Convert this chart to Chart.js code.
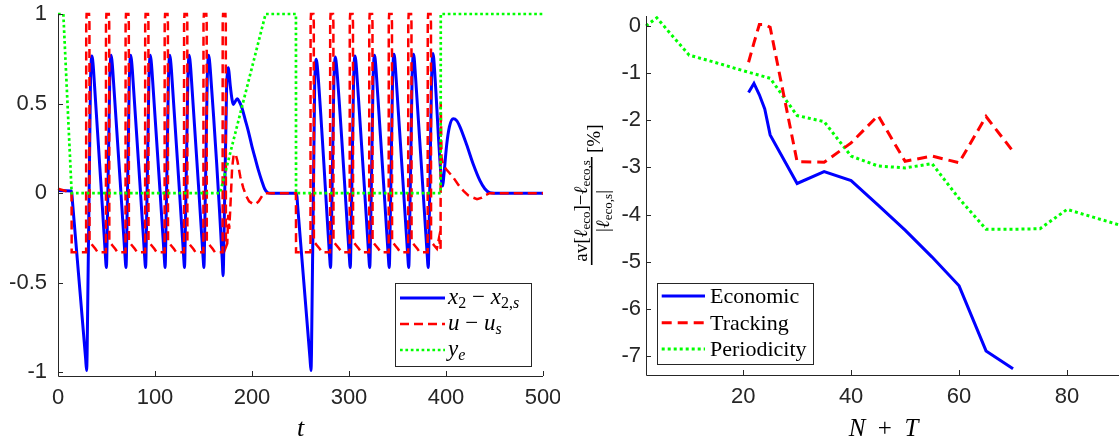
<!DOCTYPE html>
<html>
<head>
<meta charset="utf-8">
<script src="https://cdn.jsdelivr.net/npm/chart.js@4.4.1/dist/chart.umd.min.js"></script>
<style>
    html, body { margin: 0; padding: 0; background: #fff; overflow: hidden; width: 1119px; height: 441px; }
    #leftBox { position: absolute; left: 0; top: 0; }
    #rightBox { position: absolute; left: 560px; top: 0; }
</style>
</head>
<body>
<div id="leftBox"><canvas id="timeChart" width="560" height="441"></canvas></div>
<div id="rightBox"><canvas id="horizonChart" width="566" height="441"></canvas></div>
<script>
// ---- closed loop simulation (left) ----
const timeTicks = [0, 100, 200, 300, 400, 500];
const levelTicks = [-1, -0.5, 0, 0.5, 1];

// x2 - x2,s
const stateT = [
    0, 14, 15.0, 28.5, 29.5, 30.0, 33.5, 34.3, 34.9, 35.7, 36.6, 49.0, 49.5, 49.9,
    50.3, 53.3, 54.1, 54.7, 55.5, 56.4, 69.2, 69.7, 70.1,
    70.5, 73.5, 74.3, 74.9, 75.7, 76.6, 89.4, 89.9, 90.3,
    90.7, 93.7, 94.5, 95.1, 95.9, 96.8, 109.6, 110.1, 110.4,
    110.8, 113.8, 114.6, 115.2, 116.0, 116.9, 129.6, 130.1, 130.4,
    130.8, 133.8, 134.6, 135.2, 136.0, 136.9, 149.6, 150.1, 150.4,
    150.8, 153.8, 154.6, 155.3, 156.1, 157.0, 169.4, 169.9, 170.2,
    170.6, 173.8, 174.8, 175.6, 176.4, 177.6, 179.5, 180.7, 182.5, 184.8, 187.0, 189.5,
    193.0, 196.2, 200.0, 203.0, 206.5, 210.0, 213.0, 216.0, 220.0,
    246.0, 247.0, 259.8, 260.8, 261.3, 264.6, 265.4, 266.1, 266.9, 267.8, 280.1, 280.6, 281.0,
    281.4, 284.4, 285.2, 285.8, 286.6, 287.5, 300.4, 300.9, 301.3,
    301.7, 304.7, 305.5, 306.1, 306.9, 307.8, 320.5, 321.0, 321.4,
    321.8, 324.8, 325.6, 326.2, 327.0, 327.9, 340.6, 341.1, 341.5,
    341.9, 344.9, 345.7, 346.3, 347.1, 348.0, 360.7, 361.2, 361.6,
    362.0, 365.0, 365.8, 366.4, 367.2, 368.1, 380.8, 381.3, 381.7,
    382.1, 385.1, 385.9, 386.5, 387.3, 388.2, 395.0, 396.6, 397.8, 400.7, 403.5,
    407.5, 411.0, 414.4, 421.3, 428.2, 435.0, 440.0, 445.0, 450.0, 500
];
const stateY = [
    0.015, 0.012, -0.053, -0.925, -0.99, -0.90, 0.62, 0.74, 0.765, 0.745, 0.69, -0.36, -0.40, -0.414,
    -0.36, 0.62, 0.74, 0.77, 0.745, 0.69, -0.36, -0.40, -0.414,
    -0.36, 0.62, 0.74, 0.77, 0.745, 0.69, -0.36, -0.40, -0.414,
    -0.36, 0.62, 0.74, 0.77, 0.745, 0.69, -0.36, -0.40, -0.414,
    -0.36, 0.62, 0.74, 0.77, 0.745, 0.69, -0.36, -0.40, -0.414,
    -0.36, 0.62, 0.74, 0.77, 0.745, 0.69, -0.36, -0.40, -0.414,
    -0.36, 0.62, 0.74, 0.77, 0.745, 0.69, -0.38, -0.44, -0.46,
    -0.40, 0.58, 0.68, 0.70, 0.67, 0.60, 0.52, 0.495, 0.51, 0.527, 0.51, 0.478,
    0.41, 0.347, 0.26, 0.20, 0.13, 0.07, 0.025, 0.004, 0,
    0, -0.067, -0.923, -0.99, -0.90, 0.60, 0.72, 0.748, 0.73, 0.68, -0.36, -0.40, -0.414,
    -0.36, 0.62, 0.73, 0.76, 0.74, 0.69, -0.36, -0.40, -0.414,
    -0.36, 0.62, 0.74, 0.765, 0.745, 0.69, -0.36, -0.40, -0.414,
    -0.36, 0.62, 0.745, 0.77, 0.75, 0.69, -0.36, -0.40, -0.414,
    -0.36, 0.63, 0.75, 0.775, 0.755, 0.69, -0.36, -0.40, -0.414,
    -0.36, 0.63, 0.75, 0.775, 0.755, 0.69, -0.36, -0.40, -0.414,
    -0.36, 0.63, 0.75, 0.78, 0.755, 0.69, 0.09, 0.04, 0.10, 0.27, 0.37,
    0.415, 0.405, 0.37, 0.27, 0.16, 0.07, 0.025, 0.003, 0, 0
];

// u - us
const inputT = [
    0, 14.0, 14.1, 29.0, 29.1, 29.5, 32.0, 32.4, 32.5, 35.5, 38.5, 41.0,
    49.4, 49.5, 49.9, 52.4, 52.8, 52.9, 55.9, 58.9, 61.4,
    69.6, 69.7, 70.1, 72.6, 73.0, 73.1, 76.1, 79.1, 81.6,
    89.8, 89.9, 90.3, 92.8, 93.2, 93.3, 96.3, 99.3, 101.8,
    109.9, 110.0, 110.4, 112.9, 113.3, 113.4, 116.4, 119.4, 121.9,
    129.9, 130.0, 130.4, 132.9, 133.3, 133.4, 136.4, 139.4, 141.9,
    149.9, 150.0, 150.4, 152.9, 153.3, 153.4, 156.4, 159.4, 161.9,
    169.7, 169.8, 170.2, 172.6, 173.0, 173.1, 174.5, 175.5, 176.5, 177.5, 179.5,
    181.0, 183.0, 185.0, 188.0, 191.0, 194.0, 197.0, 201.0, 204.0, 207.0, 211.0, 214.0, 245.3,
    245.4, 260.3, 260.4, 260.8, 263.3, 263.7, 263.8, 266.8, 269.8, 272.3,
    280.5, 280.6, 281.0, 283.5, 283.9, 284.0, 287.0, 290.0, 292.5,
    300.7, 300.8, 301.2, 303.7, 304.1, 304.2, 307.2, 310.2, 312.7,
    320.8, 320.9, 321.3, 323.8, 324.2, 324.3, 327.3, 330.3, 332.8,
    340.9, 341.0, 341.4, 343.9, 344.3, 344.4, 347.4, 350.4, 352.9,
    361.0, 361.1, 361.5, 364.0, 364.4, 364.5, 367.5, 370.5, 373.0,
    381.1, 381.2, 381.6, 384.1, 384.5, 384.6, 387.6, 390.6, 392.8, 394.4, 394.6,
    395.4, 397.0, 400.0, 404.0, 407.5, 413.0, 418.0, 423.0, 428.0, 432.0, 437.0, 441.0, 445.0, 500
];
const inputY = [
    0.025, 0.003, -0.33, -0.33, 0.95, 1, 1, 0.95, -0.27, -0.29, -0.31, -0.33,
    -0.33, 0.95, 1, 1, 0.95, -0.27, -0.29, -0.31, -0.33,
    -0.33, 0.95, 1, 1, 0.95, -0.27, -0.29, -0.31, -0.33,
    -0.33, 0.95, 1, 1, 0.95, -0.27, -0.29, -0.31, -0.33,
    -0.33, 0.95, 1, 1, 0.95, -0.27, -0.29, -0.31, -0.33,
    -0.33, 0.95, 1, 1, 0.95, -0.27, -0.29, -0.31, -0.33,
    -0.33, 0.95, 1, 1, 0.95, -0.27, -0.29, -0.31, -0.33,
    -0.33, 0.95, 1, 1, 0.95, -0.30, -0.28, -0.12, -0.20, -0.10, 0.14,
    0.21, 0.22, 0.18, 0.09, 0.03, -0.015, -0.045, -0.06, -0.06, -0.045, -0.01, 0, 0,
    -0.33, -0.33, 0.95, 1, 1, 0.95, -0.27, -0.29, -0.31, -0.33,
    -0.33, 0.95, 1, 1, 0.95, -0.27, -0.29, -0.31, -0.33,
    -0.33, 0.95, 1, 1, 0.95, -0.27, -0.29, -0.31, -0.33,
    -0.33, 0.95, 1, 1, 0.95, -0.27, -0.29, -0.31, -0.33,
    -0.33, 0.95, 1, 1, 0.95, -0.27, -0.29, -0.31, -0.33,
    -0.33, 0.95, 1, 1, 0.95, -0.27, -0.29, -0.31, -0.33,
    -0.33, 0.95, 1, 1, 0.95, -0.27, -0.29, -0.31, -0.25, -0.31, 0.50,
    0.20, 0.16, 0.135, 0.11, 0.088, 0.045, 0.013, -0.012, -0.025, -0.033, -0.025, -0.01, 0, 0
];

// y_e
const outputT = [0, 5.5, 14.1, 167, 214, 245.3, 245.4, 394.5, 394.6, 500];
const outputY = [1, 1, 0, 0, 1, 1, 0, 0, 1, 1];

// ---- cost vs. horizon (right) ----
const horizonTicks = [20, 40, 60, 80];
const costTicks = [-7, -6, -5, -4, -3, -2, -1, 0];
const horizon = [21, 22, 23, 24, 25, 30, 35, 40, 45, 50, 55, 60, 65, 70];
const economicCost = [-1.41, -1.22, -1.46, -1.76, -2.31, -3.34, -3.09, -3.28, -3.80, -4.33, -4.90, -5.51, -6.89, -7.27];
const trackingCost = [-0.77, -0.36, 0.03, 0.03, -0.03, -2.88, -2.89, -2.48, -1.90, -2.87, -2.76, -2.90, -1.92, -2.66];
const periodicHorizon = [2, 4, 10, 15, 20, 25, 30, 35, 40, 45, 50, 55, 60, 65, 70, 75, 80, 85, 90];
const periodicCost = [0, 0.17, -0.62, -0.78, -0.95, -1.11, -1.90, -2.03, -2.76, -2.97, -3.01, -2.92, -3.66, -4.31, -4.31, -4.30, -3.89, -4.06, -4.23];

const BLUE = '#0000ff', RED = '#ff0000', GREEN = '#00ff00', AXIS = '#262626';
const sans = '"Liberation Sans", Arial, sans-serif';
const serif = '"Liberation Serif", "DejaVu Serif", serif';
const mi = s => 'italic ' + s + 'px ' + serif;
const mr = s => s + 'px ' + serif;

function toPoints(xs, ys) {
    return xs.map((x, i) => ({ x: x, y: ys[i] }));
}

// text made of pieces with their own font and baseline shift
function drawRich(ctx, parts, x, y, align) {
    let w = 0;
    parts.forEach(p => { ctx.font = p.f; w += ctx.measureText(p.t).width; });
    let cx = align === 'center' ? x - w / 2 : x;
    parts.forEach(p => {
        ctx.font = p.f;
        ctx.fillText(p.t, cx, y + (p.dy || 0));
        cx += ctx.measureText(p.t).width;
    });
    return w;
}

// axis lines, inward ticks, legend box and axis titles
const decor = {
    id: 'decor',
    afterDraw(chart, args, o) {
        const ctx = chart.ctx, a = chart.chartArea;
        const xs = chart.scales.x, ys = chart.scales.y;
        ctx.save();
        ctx.strokeStyle = AXIS;
        ctx.lineWidth = 1;
        ctx.beginPath();
        ctx.moveTo(Math.round(a.left) + 0.5, a.top);
        ctx.lineTo(Math.round(a.left) + 0.5, Math.round(a.bottom) + 0.5);
        ctx.lineTo(a.right, Math.round(a.bottom) + 0.5);
        xs.ticks.forEach(t => {
            const px = Math.round(xs.getPixelForValue(t.value)) + 0.5;
            ctx.moveTo(px, a.bottom);
            ctx.lineTo(px, a.bottom - o.tickLen);
        });
        ys.ticks.forEach(t => {
            const py = Math.round(ys.getPixelForValue(t.value)) + 0.5;
            ctx.moveTo(a.left, py);
            ctx.lineTo(a.left + o.tickLen, py);
        });
        ctx.stroke();

        // legend
        const lg = o.legend;
        ctx.fillStyle = '#fff';
        ctx.fillRect(lg.x, lg.y, lg.w, lg.h);
        ctx.strokeStyle = AXIS;
        ctx.lineWidth = 1;
        ctx.strokeRect(lg.x + 0.5, lg.y + 0.5, lg.w, lg.h);
        lg.items.forEach((it, i) => {
            const ry = lg.rows[i];
            ctx.strokeStyle = it.color;
            ctx.lineWidth = it.width;
            ctx.setLineDash(it.dash);
            ctx.beginPath();
            ctx.moveTo(lg.lineFrom, ry);
            ctx.lineTo(lg.lineTo, ry);
            ctx.stroke();
            ctx.setLineDash([]);
            ctx.fillStyle = '#000';
            ctx.textBaseline = 'alphabetic';
            drawRich(ctx, it.text, lg.textX, ry + lg.baseShift, 'left');
        });

        // axis titles
        ctx.fillStyle = '#000';
        ctx.textBaseline = 'alphabetic';
        drawRich(ctx, o.xTitle, (a.left + a.right) / 2, o.xTitleY, 'center');
        if (o.yTitle) o.yTitle(ctx);
        ctx.restore();
    }
};

function axisOptions(min, max, ticks, pad, size) {
    return {
        type: 'linear', min: min, max: max,
        afterBuildTicks: s => { s.ticks = ticks.map(v => ({ value: v })); },
        afterFit: s => {
            if (s.isHorizontal()) { s.height = size; s.paddingLeft = 0; s.paddingRight = 0; }
            else { s.width = size; s.paddingTop = 0; s.paddingBottom = 0; }
        },
        grid: { display: false, drawTicks: false },
        border: { display: false },
        ticks: {
            padding: pad, autoSkip: false, maxRotation: 0,
            color: AXIS, font: { family: sans, size: 22 },
            callback: v => String(v)
        }
    };
}

new Chart(document.getElementById('timeChart'), {
    type: 'line',
    data: {
        datasets: [
            { data: toPoints(stateT, stateY), borderColor: BLUE, borderWidth: 3, cubicInterpolationMode: 'monotone', order: 3 },
            { data: toPoints(inputT, inputY), borderColor: RED, borderWidth: 2.5, borderDash: [9, 5], order: 2 },
            { data: toPoints(outputT, outputY), borderColor: GREEN, borderWidth: 2.7, borderDash: [2.7, 2.7], order: 1 }
        ]
    },
    options: {
        responsive: false,
        animation: false,
        layout: { padding: { left: 0, right: 17, top: 14, bottom: 0 } },
        elements: { point: { radius: 0 }, line: { borderCapStyle: 'butt' } },
        datasets: { line: { clip: 6 } },
        plugins: {
            legend: { display: false },
            tooltip: { enabled: false },
            decor: {
                tickLen: 5,
                xTitle: [{ t: 't', f: mi(26) }],
                xTitleY: 436,
                legend: {
                    x: 395, y: 283, w: 136, h: 83,
                    rows: [298, 324, 350], lineFrom: 400, lineTo: 445, textX: 448, baseShift: 6,
                    items: [
                        { color: BLUE, width: 3, dash: [], text: [
                            { t: 'x', f: mi(23) }, { t: '2', f: mr(16), dy: 4 }, { t: ' − ', f: mr(23) },
                            { t: 'x', f: mi(23) }, { t: '2,', f: mr(16), dy: 4 }, { t: 's', f: mi(16), dy: 4 }] },
                        { color: RED, width: 2.5, dash: [9, 5], text: [
                            { t: 'u', f: mi(23) }, { t: ' − ', f: mr(23) }, { t: 'u', f: mi(23) }, { t: 's', f: mi(16), dy: 4 }] },
                        { color: GREEN, width: 2.7, dash: [2.7, 2.7], text: [
                            { t: 'y', f: mi(23) }, { t: 'e', f: mi(16), dy: 4 }] }
                    ]
                }
            }
        },
        scales: {
            x: axisOptions(0, 500, timeTicks, 9, 65),
            y: axisOptions(-1.02, 1, levelTicks, 11, 58)
        }
    },
    plugins: [decor]
});

// rotated fraction label of the right y axis
function costTitle(ctx) {
    ctx.save();
    ctx.translate(31.7, 196);
    ctx.rotate(-Math.PI / 2);
    ctx.fillStyle = '#000';
    const num = [
        { t: 'av', f: mr(19) }, { t: '[', f: mr(19) }, { t: 'ℓ', f: mi(19) }, { t: 'eco', f: mr(13), dy: 3 },
        { t: ']', f: mr(19) }, { t: '−', f: mr(19) }, { t: 'ℓ', f: mi(19) }, { t: 'eco,s', f: mr(13), dy: 3 }];
    const den = [{ t: '|', f: mr(19) }, { t: 'ℓ', f: mi(19) }, { t: 'eco,s', f: mr(13), dy: 3 }, { t: '|', f: mr(19) }];
    drawRich(ctx, num, -15, -5, 'center');
    drawRich(ctx, den, -15, 17, 'center');
    ctx.fillRect(-69, -0.8, 108, 1.6);
    drawRich(ctx, [{ t: '[%]', f: mr(19) }], 43, 8, 'left');
    ctx.restore();
}

new Chart(document.getElementById('horizonChart'), {
    type: 'line',
    data: {
        datasets: [
            { data: toPoints(horizon, economicCost), borderColor: BLUE, borderWidth: 3 },
            { data: toPoints(horizon, trackingCost), borderColor: RED, borderWidth: 3, borderDash: [10, 6] },
            { data: toPoints(periodicHorizon, periodicCost), borderColor: GREEN, borderWidth: 3, borderDash: [3, 3] }
        ]
    },
    options: {
        responsive: false,
        animation: false,
        layout: { padding: { left: 0, right: 5, top: 16, bottom: 0 } },
        elements: { point: { radius: 0 }, line: { borderCapStyle: 'butt' } },
        datasets: { line: { clip: 6 } },
        plugins: {
            legend: { display: false },
            tooltip: { enabled: false },
            decor: {
                tickLen: 5,
                xTitle: [{ t: 'N', f: mi(25) }, { t: '\u2002+\u2002', f: mr(25) }, { t: 'T', f: mi(25) }],
                xTitleY: 436,
                yTitle: costTitle,
                legend: {
                    x: 97, y: 283, w: 156, h: 81,
                    rows: [296, 322.7, 349], lineFrom: 101.7, lineTo: 145, textX: 150, baseShift: 7,
                    items: [
                        { color: BLUE, width: 3, dash: [], text: [{ t: 'Economic', f: mr(22) }] },
                        { color: RED, width: 3, dash: [10, 6], text: [{ t: 'Tracking', f: mr(22) }] },
                        { color: GREEN, width: 3, dash: [3, 3], text: [{ t: 'Periodicity', f: mr(22) }] }
                    ]
                }
            }
        },
        scales: {
            x: axisOptions(2, 90, horizonTicks, 9, 66),
            y: axisOptions(-7.4, 0.21, costTicks, 5, 86)
        }
    },
    plugins: [decor]
});
</script>
</body>
</html>
